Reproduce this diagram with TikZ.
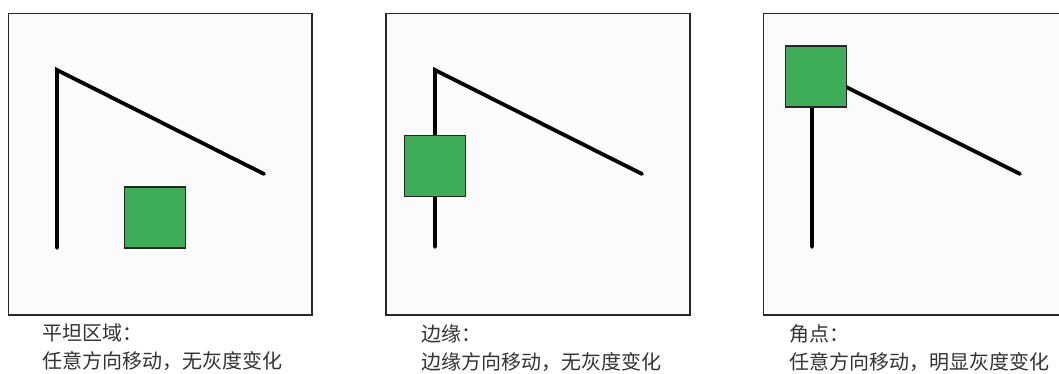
\documentclass[tikz,border=0pt]{standalone}
\usepackage{fontspec}
\newfontfamily\cjk{Noto Sans CJK SC}
\begin{document}
\begin{tikzpicture}[x=1pt,y=-1pt,
  panel/.style={draw=black!85, line width=1.3pt, fill=black!1.5},
  stroke/.style={draw=black, line width=3.8pt, line cap=round, line join=miter},
  patch/.style={draw=black!85, line width=1.2pt, fill={rgb,255:red,62;green,173;blue,87}, minimum width=61pt, minimum height=61pt, inner sep=0pt, outer sep=0pt},
  caption/.style={anchor=north west, inner sep=0pt, align=left, text=black!80, font=\cjk\fontsize{20}{28}\selectfont}]
\useasboundingbox[fill=white] (0,0) rectangle (1059,374);
% panel 1
\path[panel] (8.5,13.5) rectangle (312,315);
\coordinate (a1) at (57,248);
\coordinate (c1) at (57,70);
\coordinate (e1) at (264,174);
\draw[stroke] (a1) -- (c1) -- (e1);
\node[patch] (s1) at (155,217.5) {};
\node[caption] (t1) at (42,324) {平坦区域：\\任意方向移动，无灰度变化};
% panel 2
\path[panel] (386,13.5) rectangle (690,315);
\coordinate (a2) at (435,247);
\coordinate (c2) at (435,70);
\coordinate (e2) at (642,174);
\draw[stroke] (a2) -- (c2) -- (e2);
\node[patch] (s2) at (435,166) {};
\node[caption] (t2) at (421,324) {边缘：\\边缘方向移动，无灰度变化};
% panel 3
\path[panel] (763.5,13.5) rectangle (1062,315);
\coordinate (a3) at (812,247);
\coordinate (c3) at (812,70);
\coordinate (e3) at (1020,174);
\draw[stroke] (a3) -- (c3) -- (e3);
\node[patch] (s3) at (816,76.5) {};
\node[caption] (t3) at (789,324) {角点：\\任意方向移动，明显灰度变化};
\end{tikzpicture}
\end{document}
